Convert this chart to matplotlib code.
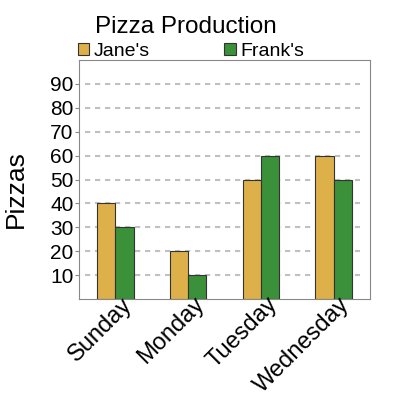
import numpy as np
import matplotlib.pyplot as plt
import matplotlib.transforms as mtransforms

plt.rcParams['font.family'] = ['Liberation Sans', 'DejaVu Sans']

# data
days = ['Sunday', 'Monday', 'Tuesday', 'Wednesday']
jane = [40, 20, 50, 60]
frank = [30, 10, 60, 50]
yticks = [10, 20, 30, 40, 50, 60, 70, 80, 90]

fig = plt.figure(figsize=(4, 4), dpi=100)
ax = fig.add_axes([79 / 400, 1 - 299 / 400, 291 / 400, 239 / 400])

x = np.arange(len(days))
w = 0.25
ax.bar(x - w / 2, jane, w, color='#DEB04A', edgecolor='#333333', linewidth=0.8, label="Jane's", zorder=3)
ax.bar(x + w / 2, frank, w, color='#3A913A', edgecolor='#333333', linewidth=0.8, label="Frank's", zorder=3)

ax.set_xlim(-0.5, 3.5)
ax.set_ylim(0, 100)
ax.set_yticks(yticks)
# dashed grid that stops a little short of both sides
ax.hlines(yticks, 0.02, 0.966, transform=ax.get_yaxis_transform(), colors='#c0c0c0',
          linewidth=1.5, linestyles=(0, (2.5, 2.3)), zorder=0)
ax.set_xticks(x)
ax.set_xticklabels([])
ax.tick_params(axis='x', length=0)

# rotated day labels, shifted right of each tick like the original
shift = mtransforms.ScaledTranslation(0.13, -0.02, fig.dpi_scale_trans)
for xi, day in zip(x, days):
    ax.text(xi, 0, day, transform=ax.get_xaxis_transform() + shift, rotation=45,
            ha='right', va='center', rotation_mode='anchor', fontsize=17, clip_on=False)

ax.tick_params(axis='y', labelsize=15, length=3, color='#888888', pad=1)
for s in ax.spines.values():
    s.set_color('#888888')

ax.set_ylabel('Pizzas', fontsize=19)
ax.yaxis.set_label_coords(-0.175, 0.46)

fig.text(186 / 400, 1 - 27 / 400, 'Pizza Production', fontsize=17.5, ha='center', va='center')
ax.legend(loc='lower left', bbox_to_anchor=(-0.005, 1.0), ncol=2, frameon=False,
          fontsize=14, handlelength=0.6, handleheight=0.6, handletextpad=0.25,
          columnspacing=3.8, borderaxespad=0, borderpad=0)

fig.savefig('out.png', dpi=100)
